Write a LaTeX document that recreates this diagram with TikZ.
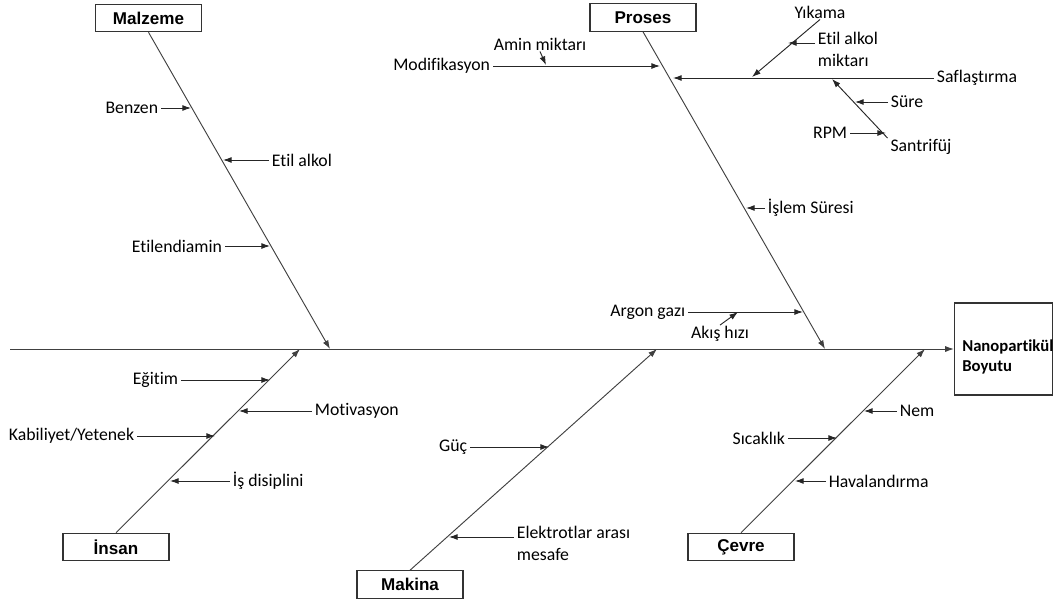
\documentclass[tikz,border=0pt]{standalone}
\usepackage{fontspec}
\setmainfont{Carlito}[Ligatures=NoCommon]
\newfontfamily\boxfont{Liberation Sans}
\usetikzlibrary{arrows.meta}

\begin{document}
\begin{tikzpicture}[x=0.75pt,y=-0.75pt,
  every node/.style={font=\fontsize{13.3}{16.5}\selectfont, inner xsep=2pt, inner ysep=0.75pt},
  category/.style={draw=black!80, line width=0.9pt, font=\boxfont\bfseries\fontsize{12.8}{15}\selectfont,
    minimum width=79.5pt, minimum height=20.5pt, inner sep=0pt},
  bone/.style={draw=black!75, line width=0.7pt, -{Latex[length=6.5pt,width=4.5pt]}},
  rib/.style={draw=black!85, line width=0.7pt, -{Latex[length=6.5pt,width=4.5pt]}}]

  \useasboundingbox (0,0) rectangle (1054,601);

  % categories and effect
  \node (Malzeme) [category] at (148.5,18) {Malzeme};
  \node (Proses) [category] at (643,17.5) {Proses};
  \node (Insan) [category] at (116,547) {İnsan};
  \node (Makina) [category] at (410,584.5) {Makina};
  \node (Cevre) [category] at (741,547) {Çevre};

  \node (Boyut) [draw=black!80, line width=0.9pt, minimum width=73.5pt, minimum height=69pt] at (1003.5,349) {};
  \node (BoyutText) [anchor=west, align=left, inner xsep=0pt, font=\bfseries\fontsize{12.5}{15}\selectfont] at (962,357) {Nanopartikül\\Boyutu};

  % spine and bones
  \coordinate (Tail) at (10,349);
  \coordinate (MalzemeP) at (330,349);
  \coordinate (ProsesP) at (825,349);
  \coordinate (InsanP) at (300,349);
  \coordinate (MakinaP) at (657,349);
  \coordinate (CevreP) at (925,349);

  \draw[bone] (Tail) -- (Boyut.west);
  \draw[bone] (Malzeme.south) -- (MalzemeP);
  \draw[bone] (Proses.south) -- (ProsesP);
  \draw[bone] (Insan.north) -- (InsanP);
  \draw[bone] (Makina.north) -- (MakinaP);
  \draw[bone] (Cevre.north) -- (CevreP);

  % Malzeme
  \node (Benzen) [anchor=east] at (161,108) {Benzen};
  \node (EtilAlkol) [anchor=west] at (269,160) {Etil alkol};
  \node (Etilendiamin) [anchor=east] at (225,246) {Etilendiamin};
  \coordinate (BenzenP) at (191,108);
  \coordinate (EtilAlkolP) at (223,160);
  \coordinate (EtilendiaminP) at (270,246);
  \draw[rib] (Benzen) -- (BenzenP);
  \draw[rib] (EtilAlkol) -- (EtilAlkolP);
  \draw[rib] (Etilendiamin) -- (EtilendiaminP);

  % Proses
  \node (Modifikasyon) [anchor=east] at (493,66) {Modifikasyon};
  \node (Amin) at (540,44) {Amin miktarı};
  \coordinate (ModifikasyonP) at (660,66);
  \coordinate (AminP) at (546,65);
  \draw[rib] (Modifikasyon) -- (ModifikasyonP);
  \draw[rib] (Amin.south) -- (AminP);

  \node (Saflastirma) [anchor=west] at (934,78) {Saflaştırma};
  \coordinate (SaflastirmaP) at (673,78);
  \draw[rib] (Saflastirma) -- (SaflastirmaP);

  \node (Yikama) at (820,12) {Yıkama};
  \node (EtilMiktar) [anchor=west, align=left] at (815,49) {Etil alkol\\miktarı};
  \coordinate (YikamaP) at (752,77);
  \coordinate (EtilMiktarP) at (788,43);
  \draw[rib] (Yikama.south) -- (YikamaP);
  \draw[rib] ([yshift=4.5pt]EtilMiktar.west) -- (EtilMiktarP);

  \node (Santrifuj) at (921,147) {Santrifüj};
  \node (Sure) [anchor=west] at (888,102) {Süre};
  \node (RPM) [anchor=east] at (850,133) {RPM};
  \coordinate (SantrifujP) at (832,79);
  \coordinate (SureP) at (855,102);
  \coordinate (RPMP) at (886,133);
  \draw[rib] (Santrifuj.north west) -- (SantrifujP);
  \draw[rib] (Sure) -- (SureP);
  \draw[rib] (RPM) -- (RPMP);

  \node (IslemSuresi) [anchor=west] at (765,208) {İşlem Süresi};
  \coordinate (IslemSuresiP) at (746,208);
  \draw[rib] (IslemSuresi) -- (IslemSuresiP);

  \node (Argon) [anchor=east] at (688,312) {Argon gazı};
  \node (Akis) at (720,334) {Akış hızı};
  \coordinate (ArgonP) at (803,312);
  \coordinate (AkisP) at (738,312);
  \draw[rib] (Argon) -- (ArgonP);
  \draw[rib] (Akis.north) -- (AkisP);

  % Insan
  \node (Egitim) [anchor=east] at (181,380) {Eğitim};
  \node (Motivasyon) [anchor=west] at (312,411) {Motivasyon};
  \node (Kabiliyet) [anchor=east] at (137,436) {Kabiliyet/Yetenek};
  \node (Disiplin) [anchor=west] at (230,481) {İş disiplini};
  \coordinate (EgitimP) at (270,380);
  \coordinate (MotivasyonP) at (239,411);
  \coordinate (KabiliyetP) at (215,436);
  \coordinate (DisiplinP) at (170,481);
  \draw[rib] (Egitim) -- (EgitimP);
  \draw[rib] (Motivasyon) -- (MotivasyonP);
  \draw[rib] (Kabiliyet) -- (KabiliyetP);
  \draw[rib] (Disiplin) -- (DisiplinP);

  % Makina
  \node (Guc) [anchor=east] at (470,447) {Güç};
  \node (Elektrot) [anchor=west, align=left] at (514,543) {Elektrotlar arası\\mesafe};
  \coordinate (GucP) at (549,447);
  \coordinate (ElektrotP) at (449,537);
  \draw[rib] (Guc) -- (GucP);
  \draw[rib] ([yshift=4.5pt]Elektrot.west) -- (ElektrotP);

  % Cevre
  \node (Nem) [anchor=west] at (897,411) {Nem};
  \node (Sicaklik) [anchor=east] at (788,438) {Sıcaklık};
  \node (Havalandirma) [anchor=west] at (826,481) {Havalandırma};
  \coordinate (NemP) at (864,411);
  \coordinate (SicaklikP) at (837,438);
  \coordinate (HavalandirmaP) at (795,481);
  \draw[rib] (Nem) -- (NemP);
  \draw[rib] (Sicaklik) -- (SicaklikP);
  \draw[rib] (Havalandirma) -- (HavalandirmaP);

\end{tikzpicture}
\end{document}
